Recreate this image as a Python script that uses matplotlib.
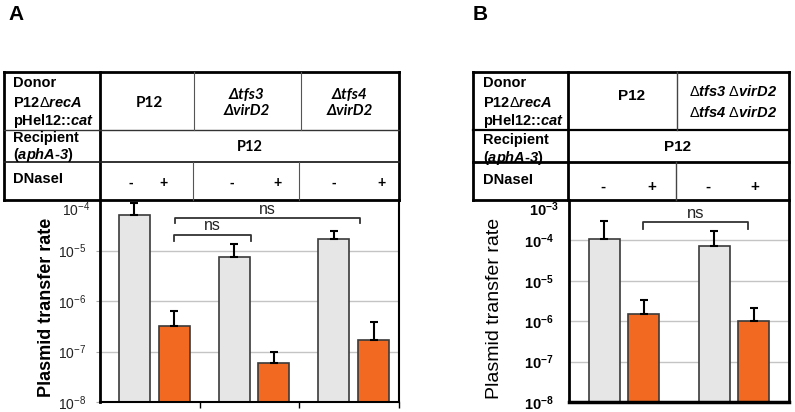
import matplotlib
matplotlib.use("Agg")
import matplotlib.pyplot as plt
import numpy as np

plt.rcParams['font.family'] = ['Liberation Sans', 'DejaVu Sans']
plt.rcParams['mathtext.fontset'] = 'custom'
plt.rcParams['mathtext.rm'] = 'Liberation Sans:bold:italic'
plt.rcParams['mathtext.it'] = 'Liberation Sans:bold:italic'
plt.rcParams['mathtext.bf'] = 'Liberation Sans:bold'
plt.rcParams['mathtext.sf'] = 'Liberation Sans'

D = r'\mathsf{\Delta}'

# ---- data, panel A ----
donors_a = ['P12', 'Δtfs3\nΔvirD2', 'Δtfs4\nΔvirD2']
minus_a = [5.1e-5, 7.6e-6, 1.7e-5]        # no DNaseI
minus_err_a = [3.8e-5, 5.9e-6, 7.0e-6]
plus_a = [3.2e-7, 5.8e-8, 1.66e-7]         # + DNaseI
plus_err_a = [3.0e-7, 4.2e-8, 2.24e-7]

# ---- data, panel B ----
donors_b = ['P12', '$%s tfs3$ $%s virD2$\n$%s tfs4$ $%s virD2$' % (D, D, D, D)]
minus_b = [1.07e-4, 7.2e-5]
minus_err_b = [1.93e-4, 9.8e-5]
plus_b = [1.5e-6, 1.0e-6]
plus_err_b = [1.8e-6, 1.1e-6]

grey = '#e6e6e6'
orange = '#f26a21'
edge = '#3a3a3a'

W, H = 795, 412
fig = plt.figure(figsize=(W / 100, H / 100), dpi=100)


def px_axes(x0, y0, x1, y1, **kw):
    return fig.add_axes([x0 / W, 1 - y1 / H, (x1 - x0) / W, (y1 - y0) / H], **kw)


def draw_bars(ax, minus, minus_err, plus, plus_err, off_m, off_p, width):
    x = np.arange(len(minus))
    ax.bar(x + off_m, minus, width, color=grey, edgecolor=edge, linewidth=1.2, zorder=2)
    ax.bar(x + off_p, plus, width, color=orange, edgecolor=edge, linewidth=1.2, zorder=2)
    ax.errorbar(x + off_m, minus, yerr=[np.zeros(len(x)), minus_err], fmt='none',
                ecolor='black', elinewidth=1.5, capsize=3, capthick=1.5, zorder=3)
    ax.errorbar(x + off_p, plus, yerr=[np.zeros(len(x)), plus_err], fmt='none',
                ecolor='black', elinewidth=1.5, capsize=3, capthick=1.5, zorder=3)
    ax.set_xlim(0, len(minus))


def bracket(ax, x0, x1, y, ydrop, fs=11.5):
    ax.plot([x0, x0, x1, x1], [ydrop, y, y, ydrop], color='#333333', lw=1.3, zorder=4)
    ax.annotate('ns', xy=((x0 + x1) / 2, y), xytext=(0, 1), textcoords='offset points',
                ha='center', va='bottom', fontsize=fs, color='#222222')


def log_ticks(ax, lo, hi, fs, weight, color):
    dec = np.arange(lo, hi + 1)
    ax.set_yscale('log')
    ax.set_ylim(10.0 ** lo, 10.0 ** hi)
    ax.yaxis.set_minor_locator(matplotlib.ticker.NullLocator())
    ax.set_yticks(10.0 ** dec)
    labels = [r'$\mathregular{10^{%d}}$' % d for d in dec]
    ax.set_yticklabels(labels[:-1] + [''], fontsize=fs, fontweight=weight, color=color)
    # top label is nudged down below the table border
    ax.annotate(labels[-1], xy=(0, 10.0 ** hi), xycoords=('axes fraction', 'data'),
                xytext=(-10, -10), textcoords='offset pixels', ha='right', va='center',
                fontsize=fs, fontweight=weight, color=color)
    ax.grid(axis='y', color='#c4c4c4', lw=1, zorder=0)
    ax.set_axisbelow(True)


# ---- panel A chart ----
ax_a = px_axes(100, 200, 399, 402)
draw_bars(ax_a, minus_a, minus_err_a, plus_a, plus_err_a, 0.345, 0.745, 0.31)
log_ticks(ax_a, -8, -4, 10, 'normal', '#222222')
ax_a.tick_params(axis='y', length=3, color='#aaaaaa', pad=7)
ax_a.set_xticks([1, 2, 3])
ax_a.set_xticklabels([])
ax_a.tick_params(axis='x', length=4, width=1, direction='out')
ax_a.spines['top'].set_visible(False)
ax_a.spines['left'].set_linewidth(2)
ax_a.spines['right'].set_linewidth(1.5)
ax_a.spines['bottom'].set_linewidth(1.5)
ax_a.set_ylabel('Plasmid transfer rate', fontsize=13, fontweight='bold')
ax_a.yaxis.set_label_coords(-0.15, 0.47)
bracket(ax_a, 0.75, 2.61, 4.4e-5, 3.5e-5)
bracket(ax_a, 0.74, 1.52, 2.05e-5, 1.55e-5)

# ---- panel B chart ----
ax_b = px_axes(569, 200, 789, 402)
draw_bars(ax_b, minus_b, minus_err_b, plus_b, plus_err_b, 0.32, 0.68, 0.285)
log_ticks(ax_b, -8, -3, 10.5, 'bold', 'black')
ax_b.tick_params(axis='y', length=0, pad=11)
ax_b.set_xticks([])
ax_b.spines['top'].set_visible(False)
ax_b.spines['left'].set_linewidth(2)
ax_b.spines['right'].set_linewidth(2)
ax_b.spines['bottom'].set_linewidth(2.5)
ax_b.set_ylabel('Plasmid transfer rate', fontsize=14)
ax_b.yaxis.set_label_coords(-0.30, 0.463)
bracket(ax_b, 0.67, 1.63, 2.8e-4, 1.9e-4, fs=12)

# ---- tables drawn in pixel space ----
ov = fig.add_axes([0, 0, 1, 1], zorder=5)
ov.set_xlim(0, W)
ov.set_ylim(H, 0)
ov.axis('off')


def seg(x0, y0, x1, y1, lw, c='black'):
    ov.plot([x0, x1], [y0, y1], color=c, lw=lw, solid_capstyle='projecting')


def left_column(x, ys, fs):
    rows = ['Donor', 'P12$%s recA$' % D, 'pHel12::$cat$',
            'Recipient', '($aphA$-$3$)', 'DNaseI']
    for t, y in zip(rows, ys):
        ov.text(x, y, t, ha='left', va='center', fontsize=fs, fontweight='bold')


# table A
for y in (72, 200):
    seg(4, y, 399, y, 2)
for x in (4, 100, 399):
    seg(x, 72, x, 200, 2)
seg(100, 130, 399, 130, 1.0, '#333333')
seg(4, 130, 100, 130, 1.0, '#333333')
seg(4, 162, 399, 162, 1.3, '#222222')
for x0, x1 in ((194, 193), (301, 299)):
    seg(x0, 72, x0, 130, 0.8, '#555555')
    seg(x1, 162, x1, 200, 0.8, '#555555')
left_column(13, [82.7, 102.7, 121, 138, 155.5, 179.3], 10.5)
cell_x_a = [149, 247, 350]
for t, x in zip(donors_a, cell_x_a):
    style = 'normal' if t == 'P12' else 'italic'
    ov.text(x, 103, t, ha='center', va='center', fontsize=11, fontweight='bold',
            fontstyle=style, family=['Lato', 'DejaVu Sans'], linespacing=1.2)
ov.text(250, 147, 'P12', ha='center', va='center', fontsize=10.5, fontweight='bold',
        family=['Lato', 'DejaVu Sans'])
for x, s in zip([131, 163, 232, 278, 334, 382], ['-', '+'] * 3):
    ov.text(x, 183, s, ha='center', va='center', fontsize=10, fontweight='bold')

# table B
for y in (72, 200):
    seg(473, y, 789, y, 2)
for x in (473, 568, 789):
    seg(x, 72, x, 200, 2)
seg(473, 130, 789, 130, 1.6)
seg(473, 162, 789, 162, 2)
seg(677, 72, 677, 130, 1.0, '#444444')
seg(676, 162, 676, 200, 1.0, '#444444')
left_column(483, [82.7, 102.7, 120.7, 140, 157.7, 180], 10.5)
ov.text(632, 96, donors_b[0], ha='center', va='center', fontsize=11, fontweight='bold')
ov.text(689, 102, donors_b[1], ha='left', va='center', fontsize=10.5, fontweight='bold',
        linespacing=1.5)
ov.text(678, 147, 'P12', ha='center', va='center', fontsize=11, fontweight='bold')
for x, s in zip([603, 652, 708, 755], ['-', '+'] * 2):
    ov.text(x, 187, s, ha='center', va='center', fontsize=11, fontweight='bold')

# panel letters
ov.text(8, 14, 'A', ha='left', va='center', fontsize=15, fontweight='bold')
ov.text(473, 14, 'B', ha='left', va='center', fontsize=15, fontweight='bold')

fig.savefig('out.png', dpi=100)
